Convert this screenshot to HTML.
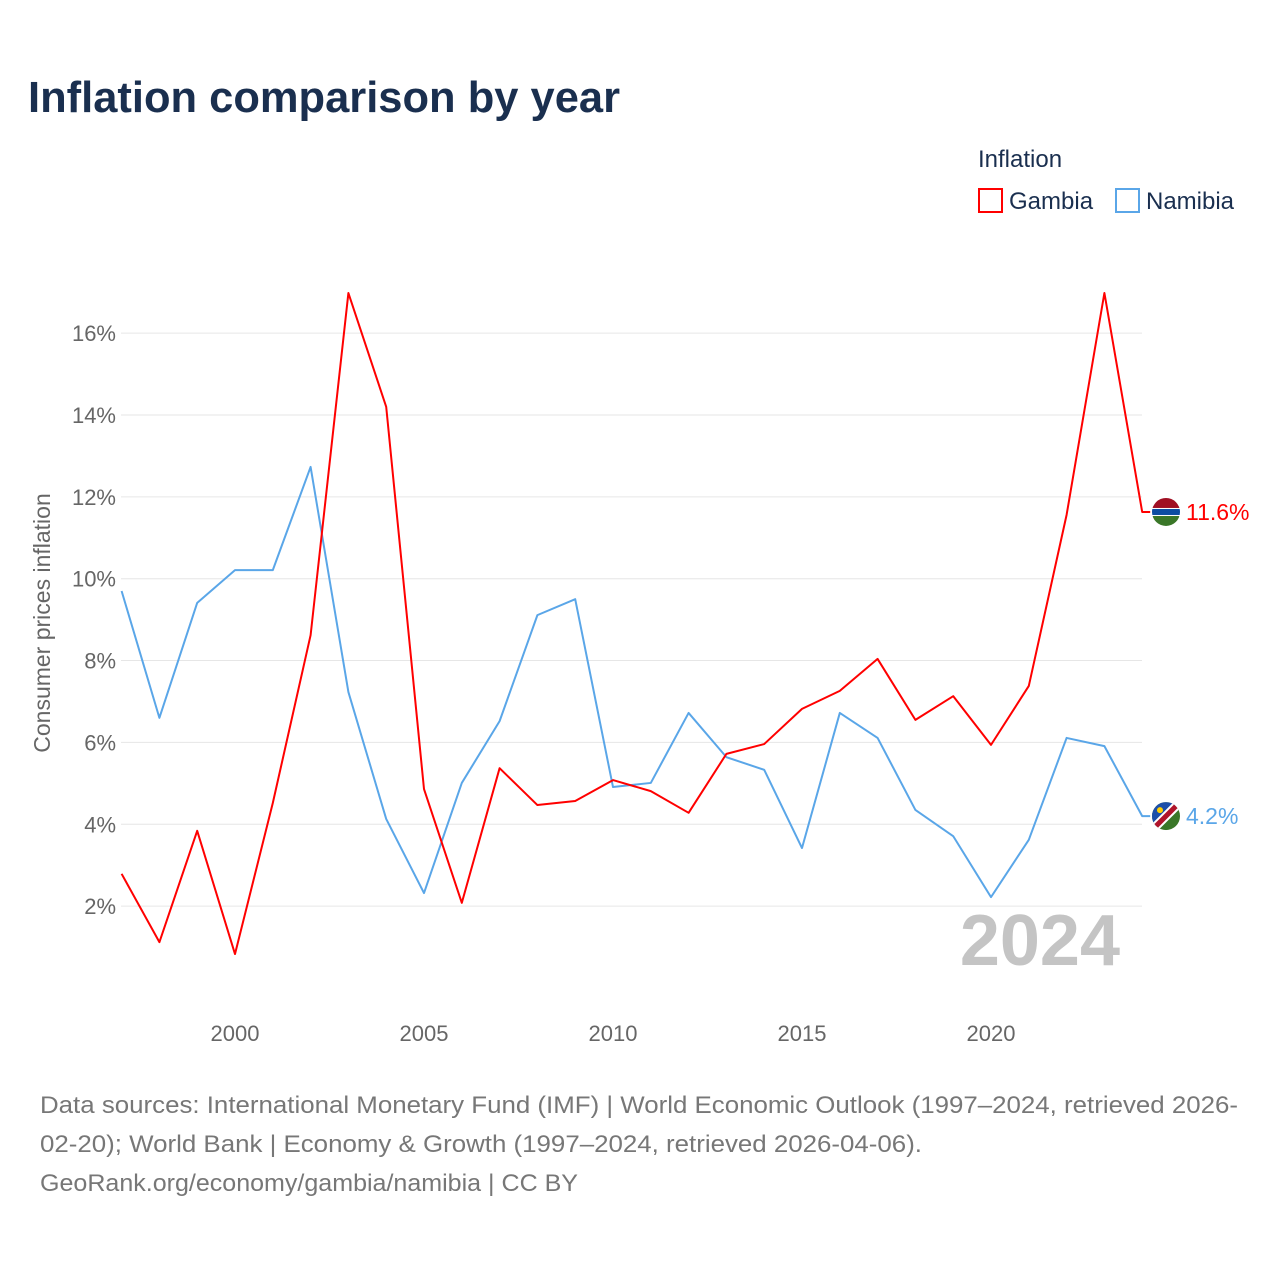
<!DOCTYPE html>
<html><head><meta charset="utf-8"><style>
body{margin:0;background:#fff;font-family:"Liberation Sans",sans-serif;}
svg text{font-family:"Liberation Sans",sans-serif;}
</style></head><body>
<svg id="chart" width="1280" height="1280" viewBox="0 0 1280 1280" xmlns="http://www.w3.org/2000/svg">
<rect width="1280" height="1280" fill="#fff"/>
<text x="28" y="112" font-size="44" font-weight="bold" fill="#1a2f4f" textLength="592" lengthAdjust="spacingAndGlyphs">Inflation comparison by year</text>
<g>
<text x="978" y="167" font-size="24" fill="#1a2f4f">Inflation</text>
<rect x="979" y="189" width="23" height="23" fill="none" stroke="#f00" stroke-width="2"/>
<text x="1009" y="209" font-size="24" fill="#1a2f4f">Gambia</text>
<rect x="1116" y="189" width="23" height="23" fill="none" stroke="#5aa6e8" stroke-width="2"/>
<text x="1146" y="209" font-size="24" fill="#1a2f4f">Namibia</text>
</g>
<text transform="translate(50,623) rotate(-90)" text-anchor="middle" font-size="23" fill="#666">Consumer prices inflation</text>
<g id="grid"></g><g id="xt"></g><g id="lines"></g>
<text x="1120" y="965" text-anchor="end" font-size="72" font-weight="bold" fill="#c4c4c4">2024</text>
<g font-size="24" fill="#777">
<text x="40" y="1113" textLength="1198" lengthAdjust="spacingAndGlyphs">Data sources: International Monetary Fund (IMF) | World Economic Outlook (1997–2024, retrieved 2026-</text>
<text x="40" y="1152" textLength="882" lengthAdjust="spacingAndGlyphs">02-20); World Bank | Economy &amp; Growth (1997–2024, retrieved 2026-04-06).</text>
<text x="40" y="1191" textLength="538" lengthAdjust="spacingAndGlyphs">GeoRank.org/economy/gambia/namibia | CC BY</text>
</g>
</svg>
<script>
const years=[1997,1998,1999,2000,2001,2002,2003,2004,2005,2006,2007,2008,2009,2010,2011,2012,2013,2014,2015,2016,2017,2018,2019,2020,2021,2022,2023,2024];
const gambia=[2.79,1.12,3.84,0.83,4.52,8.62,16.98,14.2,4.86,2.08,5.37,4.47,4.57,5.08,4.81,4.28,5.72,5.96,6.82,7.26,8.04,6.55,7.13,5.94,7.38,11.56,16.98,11.63];
const namibia=[9.70,6.60,9.41,10.21,10.21,12.73,7.23,4.13,2.32,5.01,6.52,9.11,9.50,4.91,5.01,6.72,5.64,5.33,3.42,6.72,6.11,4.35,3.71,2.22,3.62,6.11,5.91,4.20];
const yTicks=[2,4,6,8,10,12,14,16];
const xTicks=[2000,2005,2010,2015,2020];
const NS="http://www.w3.org/2000/svg";
const x=v=>121.6+(v-1997)*37.8;
const y=v=>988-v*40.93;
function mk(t,a,p){const e=document.createElementNS(NS,t);for(const k in a)e.setAttribute(k,a[k]);p.appendChild(e);return e;}
const grid=document.getElementById('grid');
yTicks.forEach(t=>{
 const l=mk('line',{x1:121,x2:1142,y1:y(t),y2:y(t),stroke:'#e6e6e6','stroke-width':1},grid);
 
 
 const tx=mk('text',{x:116,y:y(t)+8,'text-anchor':'end','font-size':22,fill:'#666'},grid);
 tx.textContent=t+'%';
 
 
});
const xt=document.getElementById('xt');
xTicks.forEach(t=>{
 const tx=mk('text',{x:x(t),y:1041,'text-anchor':'middle','font-size':22,fill:'#666'},xt);
 tx.textContent=t;
 
 
});
const lines=document.getElementById('lines');
function series(vals,col,name,flag){
 const pts=vals.map((v,i)=>x(years[i])+','+y(v));
 const last=vals[vals.length-1];
 pts.push((x(2024)+8)+','+y(last));
 const p=mk('polyline',{points:pts.join(' '),fill:'none',stroke:col,'stroke-width':2,'stroke-linejoin':'round'},lines);
 
 
 const g=mk('g',{},lines);
 
 
 const cy=y(last),cx=1166;
 const cp=mk('clipPath',{id:'c'+name},g);mk('circle',{cx:cx,cy:cy,r:14},cp);
 const fg=mk('g',{'clip-path':'url(#c'+name+')'},g);
 if(flag==='gm'){
  mk('rect',{x:cx-14,y:cy-14,width:28,height:10,fill:'#a00f23'},fg);
  mk('rect',{x:cx-14,y:cy-4,width:28,height:8,fill:'#fff'},fg);
  mk('rect',{x:cx-14,y:cy-3,width:28,height:6,fill:'#0c4da2'},fg);
  mk('rect',{x:cx-14,y:cy+4,width:28,height:10,fill:'#3a7728'},fg);
 }else{
  mk('rect',{x:cx-14,y:cy-14,width:28,height:28,fill:'#3a7728'},fg);
  mk('polygon',{points:(cx-14)+','+(cy-14)+' '+(cx+14)+','+(cy-14)+' '+(cx-14)+','+(cy+14),fill:'#1d4faa'},fg);
  mk('line',{x1:cx-16,y1:cy+16,x2:cx+16,y2:cy-16,stroke:'#fff','stroke-width':9},fg);
  mk('line',{x1:cx-16,y1:cy+16,x2:cx+16,y2:cy-16,stroke:'#b0142b','stroke-width':5},fg);
  mk('circle',{cx:cx-6,cy:cy-6,r:3,fill:'#ffce00'},fg);
 }
 const tx=mk('text',{x:1186,y:cy+8,'font-size':23,fill:col},lines);
 tx.textContent=last.toFixed(1)+'%';
 
 
}
series(namibia,'#5aa6e8','namibia','na');
series(gambia,'#f00','gambia','gm');
</script>
</body></html>
